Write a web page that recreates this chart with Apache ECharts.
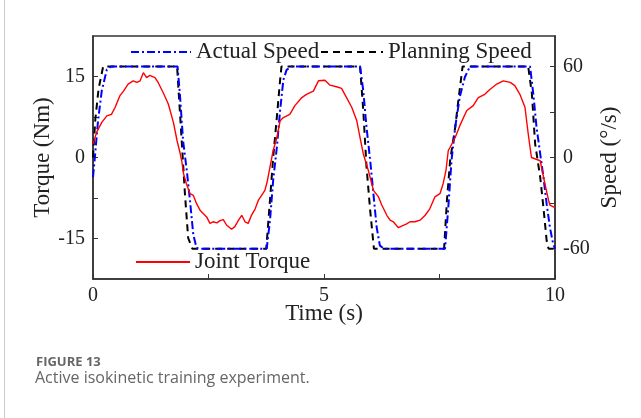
<!DOCTYPE html>
<html lang="en">
<head>
    <meta charset="utf-8">
    <title>Active isokinetic training experiment</title>
    <script src="https://cdn.jsdelivr.net/npm/echarts@6/dist/echarts.min.js"></script>
    <style>
        html, body { margin: 0; padding: 0; background: #fff; }
        #main { width: 641px; height: 418px; }
    </style>
</head>
<body>
    <div id="main"></div>
    <script type="text/javascript">

    // --- data ---
    // joint torque (Nm), left axis
    var torqueTime = [0, 0.08, 0.19, 0.30, 0.40, 0.48, 0.58, 0.66, 0.76, 0.87, 0.95, 1.02, 1.09, 1.16, 1.23,
        1.34, 1.41, 1.52, 1.63, 1.74, 1.82, 1.88, 1.92, 1.96, 2.02, 2.10, 2.17, 2.24, 2.32, 2.39, 2.46, 2.53,
        2.60, 2.68, 2.75, 2.82, 2.89, 3.00, 3.07, 3.15, 3.22, 3.29, 3.36, 3.43, 3.51, 3.58, 3.65, 3.72, 3.77,
        3.83, 3.90, 3.98, 4.05, 4.12, 4.26, 4.37, 4.52, 4.62, 4.77, 4.88, 5.02, 5.13, 5.27, 5.38, 5.45, 5.60,
        5.71, 5.78, 5.85, 5.96, 6.07, 6.18, 6.25, 6.36, 6.43, 6.50, 6.61, 6.68, 6.79, 6.86, 6.97, 7.08, 7.19,
        7.29, 7.40, 7.51, 7.58, 7.64, 7.69, 7.73, 7.84, 7.94, 8.09, 8.23, 8.34, 8.48, 8.59, 8.74, 8.88, 9.03,
        9.13, 9.24, 9.35, 9.42, 9.49, 9.68, 9.78, 9.86, 9.89, 10];
    var torque = [2.5, 4.7, 6.5, 7.7, 8.0, 9.3, 11.4, 12.3, 13.6, 14.2, 13.9, 14.2, 15.7, 14.8, 15.2,
        14.8, 13.9, 12.0, 9.9, 6.5, 3.1, 1.0, -0.6, -3.0, -4.8, -6.7, -7.0, -8.5, -9.8, -10.4, -11.0, -12.2,
        -11.9, -12.1, -11.7, -11.5, -12.5, -13.3, -12.8, -11.6, -10.7, -11.9, -12.2, -10.7, -9.5, -7.9, -7.0, -6.1, -4.5,
        -1.8, 1.3, 3.7, 6.8, 7.4, 8.0, 9.6, 11.1, 11.7, 12.3, 14.2, 14.3, 13.4, 13.1, 12.8, 11.7, 9.3,
        6.8, 3.7, 0.7, -2.4, -6.1, -7.3, -8.8, -10.7, -11.6, -11.9, -13.0, -12.7, -12.3, -11.9, -11.9, -11.6, -10.7,
        -9.5, -7.3, -6.7, -4.8, -2.4, 1.3, 1.9, 3.7, 5.9, 8.7, 9.6, 11.1, 11.7, 12.6, 13.6, 14.2, 13.9,
        13.3, 11.7, 9.3, 4.4, 0.0, -0.6, -4.8, -7.9, -8.8, -9.3];

    // actual speed (deg/s), right axis
    var actualTime = [0, 0.04, 0.11, 0.19, 0.30, 0.40, 1.83, 1.88, 1.95, 2.03, 2.10, 2.17, 2.24, 2.31,
        3.76, 3.83, 3.90, 3.98, 4.05, 4.12, 4.19, 4.30, 5.78, 5.85, 5.92, 6.00, 6.07, 6.14, 6.21, 6.30,
        7.62, 7.69, 7.76, 7.84, 7.94, 8.05, 8.16, 9.46, 9.53, 9.60, 9.68, 9.75, 9.82, 9.89, 9.96, 10];
    var actualSpeed = [-13, 0, 24.5, 44, 58, 60, 60, 42, 11, -8.6, -28.5, -50.6, -59.5, -60,
        -60, -41.8, -15, 6.8, 31, 51, 57.7, 60, 60, 44, 20, -2, -24, -46, -58, -60,
        -60, -33, -2, 20, 40, 53, 60, 60, 42, 20, 2.4, -13, -30.7, -46, -57, -60];

    // planning speed (deg/s), right axis
    var planTime = [0, 0.05, 0.12, 0.22, 1.82, 1.92, 1.99, 2.06, 2.15, 3.75, 3.83, 3.90, 3.98, 4.05, 4.08,
        5.78, 5.85, 5.92, 6.00, 6.08, 7.60, 7.66, 7.73, 7.84, 7.91, 8.00, 9.42, 9.50, 9.57, 9.68, 9.75, 9.82, 9.86, 10];
    var planSpeed = [0, 25, 45, 60, 60, 11, -24, -53, -60, -60, -28.5, 0, 26.7, 51, 60,
        60, 31, -6, -35, -60, -60, -28.5, -2, 20, 38, 60, 60, 42, 9, -13, -33, -55, -60, -60];

    var timeTicks = [0, 2.5, 5, 7.5, 10];
    var timeLabels = [0, 5, 10];
    var torqueTicks = [-15, -7.5, 0, 7.5, 15];
    var torqueLabels = [-15, 0, 15];
    var speedTicks = [-60, -30, 0, 30, 60];
    var speedLabels = [-60, 0, 60];

    function zip(xs, ys) {
        return xs.map(function (x, i) { return [x, ys[i]]; });
    }

    var serif = 'Liberation Serif';
    var axisColor = '#333';
    var legendText = { fontFamily: serif, fontSize: 23, color: '#222', lineHeight: 24 };

    var chart = echarts.init(document.getElementById('main'));
    chart.setOption({
        backgroundColor: '#fff',
        animation: false,
        textStyle: { fontFamily: serif },
        grid: {
            left: 93, right: 86, top: 36, bottom: 139,
            show: true, borderColor: axisColor, borderWidth: 1.5, backgroundColor: 'transparent'
        },
        legend: [{
            data: ['Actual Speed'],
            left: 130, top: 40, padding: 0,
            itemWidth: 60, itemHeight: 14,
            itemStyle: { opacity: 0 },
            textStyle: legendText
        }, {
            data: ['Planning Speed'],
            left: 320, top: 40, padding: 0,
            itemWidth: 62, itemHeight: 14,
            itemStyle: { opacity: 0 },
            textStyle: legendText
        }, {
            data: ['Joint Torque'],
            left: 135, top: 250, padding: 0,
            itemWidth: 54, itemHeight: 14,
            itemStyle: { opacity: 0 },
            textStyle: legendText
        }],
        xAxis: {
            type: 'value',
            min: 0, max: 10, interval: 2.5,
            name: 'Time (s)',
            nameLocation: 'middle',
            nameGap: 23,
            nameMoveOverlap: false,
            nameTextStyle: { fontFamily: serif, fontSize: 23, color: '#222' },
            axisLine: { show: true, onZero: false, lineStyle: { color: axisColor, width: 1.5 } },
            axisTick: { show: true, inside: true, length: 5, customValues: timeTicks, lineStyle: { color: axisColor } },
            axisLabel: { customValues: timeLabels, margin: 7, fontSize: 20, color: '#222', fontFamily: serif },
            splitLine: { show: false }
        },
        yAxis: [{
            type: 'value',
            min: -22.5, max: 22.5, interval: 7.5,
            name: 'Torque (Nm)',
            nameLocation: 'middle',
            nameGap: 39,
            nameMoveOverlap: false,
            nameTextStyle: { fontFamily: serif, fontSize: 23, color: '#222' },
            axisLine: { show: true, onZero: false, lineStyle: { color: axisColor, width: 1.5 } },
            axisTick: { show: true, inside: true, length: 5, customValues: torqueTicks, lineStyle: { color: axisColor } },
            axisLabel: { customValues: torqueLabels, margin: 8, fontSize: 20, color: '#222', fontFamily: serif },
            splitLine: { show: false }
        }, {
            type: 'value',
            position: 'right',
            min: -80, max: 80,
            name: 'Speed (°/s)',
            nameLocation: 'middle',
            nameGap: 43,
            nameRotate: 90,
            nameMoveOverlap: false,
            nameTextStyle: { fontFamily: serif, fontSize: 23, color: '#222' },
            axisLine: { show: true, onZero: false, lineStyle: { color: axisColor, width: 1.5 } },
            axisTick: { show: true, inside: true, length: 5, customValues: speedTicks, lineStyle: { color: axisColor } },
            axisLabel: { customValues: speedLabels, margin: 8, fontSize: 20, color: '#222', fontFamily: serif },
            splitLine: { show: false }
        }],
        series: [{
            name: 'Planning Speed',
            type: 'line',
            yAxisIndex: 1,
            symbol: 'none',
            data: zip(planTime, planSpeed),
            lineStyle: { color: '#000', width: 2, type: [7, 5] },
            itemStyle: { color: '#000' }
        }, {
            name: 'Actual Speed',
            type: 'line',
            yAxisIndex: 1,
            symbol: 'none',
            data: zip(actualTime, actualSpeed),
            lineStyle: { color: '#0000ff', width: 2, type: [8, 3, 2, 3] },
            itemStyle: { color: '#0000ff' }
        }, {
            name: 'Joint Torque',
            type: 'line',
            yAxisIndex: 0,
            symbol: 'none',
            data: zip(torqueTime, torque),
            lineStyle: { color: '#ff0000', width: 1.4 },
            itemStyle: { color: '#ff0000' }
        }],
        graphic: [{
            type: 'line',
            shape: { x1: 4.5, y1: 0, x2: 4.5, y2: 418 },
            style: { stroke: '#cccccc', lineWidth: 1 }
        }, {
            type: 'text',
            left: 36, top: 356,
            style: { text: 'FIGURE 13', fontFamily: 'Open Sans', fontSize: 13, fontWeight: 'bold', fill: '#666' }
        }, {
            type: 'text',
            left: 35, top: 370,
            style: { text: 'Active isokinetic training experiment.', fontFamily: 'Open Sans', fontSize: 16, fill: '#666' }
        }]
    });
    </script>
</body>
</html>
